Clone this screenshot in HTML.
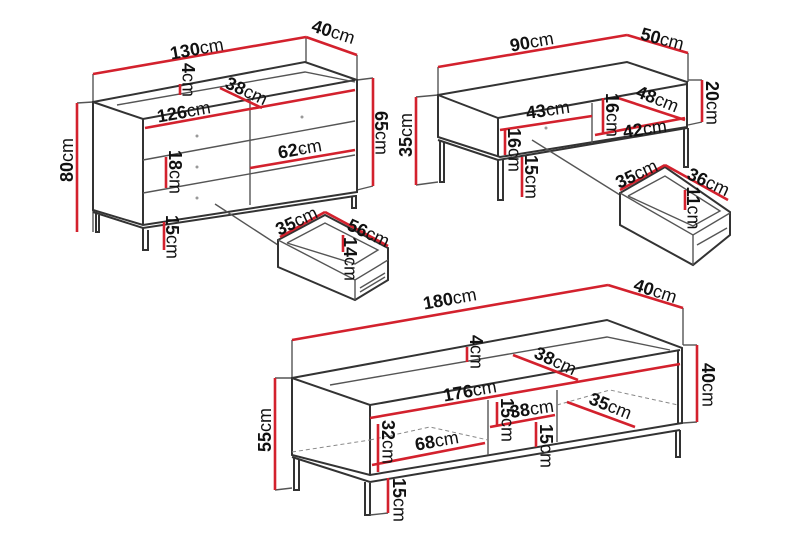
<!DOCTYPE html>
<html><head><meta charset="utf-8"><style>
html,body{margin:0;padding:0;background:#fff;width:800px;height:533px;overflow:hidden}
svg{display:block}
text{font-family:"Liberation Sans",sans-serif;font-size:18px;fill:#111;text-anchor:middle;dominant-baseline:middle}
tspan.b{font-weight:bold}
.g{stroke:#555;stroke-width:1.4;fill:none}
.k{stroke:#333;stroke-width:2;fill:none}
.r{stroke:#d3212d;stroke-width:2.6;fill:none}
.d{stroke:#888;stroke-width:1;fill:none;stroke-dasharray:4 3}
</style></head><body>
<svg width="800" height="533" viewBox="0 0 800 533">
<!-- ===== SIDEBOARD ===== -->
<g>
<polyline class="g" points="93,74 93,232"/>
<polyline class="g" points="306,37 306,62"/>
<polyline class="g" points="357,55 357,80"/>
<polyline class="g" points="77,103 93,102"/>
<polyline class="g" points="357,80 373,78"/>
<polyline class="g" points="357,190 373,186"/>
<polygon class="k" points="93,102 305,62 357,80 357,192 143,225 93,210" fill="#fff"/>
<polyline class="k" points="93,102 143,119 355,80"/>
<polyline class="g" points="117,105 305,72 355,82"/>
<line class="k" x1="143" y1="119" x2="143" y2="225"/>
<line class="g" x1="250" y1="98" x2="250" y2="205"/>
<line class="g" x1="143" y1="160" x2="355" y2="121"/>
<line class="g" x1="143" y1="193" x2="355" y2="155"/>
<polyline class="k" points="93,212 143,228 355,196"/>
<polyline class="k" points="96,212 96,232 99,232 99,215"/>
<polyline class="k" points="143,228 143,250 148,250 148,230"/>
<polyline class="k" points="352,196 352,208 356,208 356,195"/>
<circle cx="197" cy="136" r="1.5" fill="#999"/><circle cx="197" cy="167" r="1.5" fill="#999"/><circle cx="197" cy="198" r="1.5" fill="#999"/>
<circle cx="302" cy="117" r="1.5" fill="#999"/><circle cx="302" cy="151" r="1.5" fill="#999"/>
<line class="g" x1="215" y1="204" x2="278" y2="245" stroke-width="1"/>
<!-- drawer -->
<polygon class="k" points="278,240 325,215 388,248 388,280 355,300 278,267" fill="#fff"/>
<polyline class="g" points="278,240 355,280 388,260"/>
<polyline class="g" points="287,243 325,223 378,250 355,264 287,243"/>
<line class="g" x1="355" y1="280" x2="355" y2="300"/>
<line class="g" x1="360" y1="288" x2="385" y2="273"/>
<line class="g" x1="360" y1="292" x2="385" y2="277"/>
<!-- red dims -->
<line class="r" x1="93" y1="74" x2="306" y2="37"/>
<line class="r" x1="306" y1="37" x2="357" y2="55"/>
<line class="r" x1="77" y1="103" x2="77" y2="232"/>
<line class="r" x1="373" y1="78" x2="373" y2="186"/>
<line class="r" x1="145" y1="128" x2="355" y2="90"/>
<line class="r" x1="220" y1="88" x2="262" y2="108"/>
<line class="r" x1="180" y1="84" x2="180" y2="95"/>
<line class="r" x1="166" y1="157" x2="166" y2="188"/>
<line class="r" x1="250" y1="168" x2="355" y2="150"/>
<line class="r" x1="164" y1="222" x2="164" y2="250"/>
<line class="r" x1="280" y1="237" x2="325" y2="212"/>
<line class="r" x1="325" y1="212" x2="388" y2="246"/>
<line class="r" x1="343" y1="235" x2="343" y2="252"/>
<text transform="translate(197,50) rotate(-10)"><tspan class="b">130</tspan>cm</text>
<text transform="translate(333,33) rotate(18)"><tspan class="b">40</tspan>cm</text>
<text transform="translate(187,80) rotate(90)"><tspan class="b">4</tspan>cm</text>
<text transform="translate(246,92) rotate(25)"><tspan class="b">38</tspan>cm</text>
<text transform="translate(184,113) rotate(-10)"><tspan class="b">126</tspan>cm</text>
<text transform="translate(174,172) rotate(90)"><tspan class="b">18</tspan>cm</text>
<text transform="translate(300,150) rotate(-10)"><tspan class="b">62</tspan>cm</text>
<text transform="translate(171,237) rotate(90)"><tspan class="b">15</tspan>cm</text>
<text transform="translate(68,160) rotate(-90)"><tspan class="b">80</tspan>cm</text>
<text transform="translate(380,133) rotate(90)"><tspan class="b">65</tspan>cm</text>
<text transform="translate(297,222) rotate(-25)"><tspan class="b">35</tspan>cm</text>
<text transform="translate(368,234) rotate(25)"><tspan class="b">56</tspan>cm</text>
<text transform="translate(349,259) rotate(90)"><tspan class="b">14</tspan>cm</text>
</g>
<!-- ===== COFFEE TABLE ===== -->
<g>
<line class="g" x1="438" y1="67" x2="438" y2="95"/>
<line class="g" x1="688" y1="53" x2="688" y2="82"/>
<polyline class="g" points="416,97 438,95"/>
<polyline class="g" points="688,80 702,80"/>
<polyline class="g" points="688,125 702,122"/>
<polyline class="g" points="416,185 438,182"/>
<polygon class="k" points="438,95 627,62 687,82 687,127 500,157 438,137" fill="#fff"/>
<polyline class="k" points="438,95 498,118 687,84"/>
<line class="k" x1="498" y1="118" x2="498" y2="157"/>
<line class="g" x1="592" y1="103" x2="592" y2="143"/>
<polyline class="k" points="438,140 498,160 687,128"/>
<polyline class="k" points="440,140 440,182 444,182 444,142"/>
<polyline class="k" points="498,160 498,200 503,200 503,160"/>
<polyline class="k" points="684,128 684,167 688,167 688,128"/>
<line class="g" x1="532" y1="140" x2="620" y2="195" stroke-width="1"/>
<circle cx="546" cy="128" r="1.5" fill="#999"/>
<polygon class="k" points="620,193 665,167 730,212 730,235 693,265 620,225" fill="#fff"/>
<polyline class="g" points="620,193 693,235 730,213"/>
<polyline class="g" points="628,196 665,176 720,211 693,226 628,196"/>
<line class="g" x1="693" y1="235" x2="693" y2="265"/>
<line class="g" x1="697" y1="245" x2="727" y2="228"/>
<line class="r" x1="438" y1="67" x2="627" y2="35"/>
<line class="r" x1="627" y1="35" x2="688" y2="53"/>
<line class="r" x1="416" y1="97" x2="416" y2="185"/>
<line class="r" x1="702" y1="80" x2="702" y2="122"/>
<line class="r" x1="500" y1="130" x2="592" y2="116"/>
<line class="r" x1="618" y1="98" x2="685" y2="120"/>
<line class="r" x1="595" y1="135" x2="685" y2="118"/>
<line class="r" x1="603" y1="98" x2="603" y2="133"/>
<line class="r" x1="505" y1="130" x2="505" y2="155"/>
<line class="r" x1="522" y1="157" x2="522" y2="197"/>
<line class="r" x1="620" y1="190" x2="665" y2="165"/>
<line class="r" x1="665" y1="165" x2="728" y2="200"/>
<line class="r" x1="685" y1="190" x2="685" y2="210"/>
<text transform="translate(532,43) rotate(-10)"><tspan class="b">90</tspan>cm</text>
<text transform="translate(662,40) rotate(15)"><tspan class="b">50</tspan>cm</text>
<text transform="translate(407,135) rotate(-90)"><tspan class="b">35</tspan>cm</text>
<text transform="translate(711,103) rotate(90)"><tspan class="b">20</tspan>cm</text>
<text transform="translate(548,111) rotate(-8)"><tspan class="b">43</tspan>cm</text>
<text transform="translate(611,115) rotate(90)"><tspan class="b">16</tspan>cm</text>
<text transform="translate(657,100) rotate(22)"><tspan class="b">48</tspan>cm</text>
<text transform="translate(645,130) rotate(-8)"><tspan class="b">42</tspan>cm</text>
<text transform="translate(513,150) rotate(90)"><tspan class="b">16</tspan>cm</text>
<text transform="translate(530,177) rotate(90)"><tspan class="b">15</tspan>cm</text>
<text transform="translate(637,175) rotate(-25)"><tspan class="b">35</tspan>cm</text>
<text transform="translate(708,183) rotate(25)"><tspan class="b">36</tspan>cm</text>
<text transform="translate(692,208) rotate(90)"><tspan class="b">11</tspan>cm</text>
</g>
<!-- ===== TV BENCH ===== -->
<g>
<line class="g" x1="292" y1="340" x2="292" y2="378"/>
<line class="g" x1="683" y1="308" x2="683" y2="345"/>
<line class="g" x1="275" y1="378" x2="292" y2="378"/>
<line class="g" x1="275" y1="490" x2="292" y2="488"/>
<line class="g" x1="683" y1="345" x2="697" y2="345"/>
<line class="g" x1="683" y1="423" x2="697" y2="422"/>
<polygon class="k" points="292,378 607,320 682,348 682,423 370,475 292,455" fill="#fff"/>
<polyline class="k" points="292,378 370,405 680,350"/>
<polyline class="g" points="330,385 607,337 670,350"/>
<line class="k" x1="370" y1="405" x2="370" y2="475"/>
<line class="k" x1="678" y1="350" x2="678" y2="423"/>
<line class="g" x1="488" y1="400" x2="488" y2="455"/>
<line class="g" x1="557" y1="390" x2="557" y2="442"/>
<polyline class="d" points="370,440 430,427 488,440"/>
<polyline class="d" points="557,405 610,390 678,405"/>
<polyline class="d" points="292,452 370,440"/>
<polyline class="k" points="292,457 370,482 680,430"/>
<polyline class="k" points="294,457 294,490 299,490 299,460"/>
<polyline class="k" points="365,482 365,515 370,515 370,483"/>
<polyline class="k" points="676,430 676,457 680,457 680,430"/>
<line class="g" x1="370" y1="515" x2="388" y2="513"/>
<line class="r" x1="292" y1="340" x2="608" y2="285"/>
<line class="r" x1="608" y1="285" x2="683" y2="308"/>
<line class="r" x1="275" y1="378" x2="275" y2="490"/>
<line class="r" x1="697" y1="345" x2="697" y2="422"/>
<line class="r" x1="467" y1="347" x2="467" y2="362"/>
<line class="r" x1="513" y1="355" x2="578" y2="380"/>
<line class="r" x1="370" y1="418" x2="680" y2="364"/>
<line class="r" x1="378" y1="424" x2="378" y2="472"/>
<line class="r" x1="372" y1="465" x2="485" y2="443"/>
<line class="r" x1="497" y1="402" x2="497" y2="425"/>
<line class="r" x1="490" y1="427" x2="555" y2="415"/>
<line class="r" x1="536" y1="422" x2="536" y2="447"/>
<line class="r" x1="567" y1="402" x2="635" y2="427"/>
<line class="r" x1="388" y1="478" x2="388" y2="513"/>
<text transform="translate(450,300) rotate(-10)"><tspan class="b">180</tspan>cm</text>
<text transform="translate(655,292) rotate(18)"><tspan class="b">40</tspan>cm</text>
<text transform="translate(475,352) rotate(90)"><tspan class="b">4</tspan>cm</text>
<text transform="translate(555,362) rotate(25)"><tspan class="b">38</tspan>cm</text>
<text transform="translate(470,392) rotate(-10)"><tspan class="b">176</tspan>cm</text>
<text transform="translate(387,442) rotate(90)"><tspan class="b">32</tspan>cm</text>
<text transform="translate(437,442) rotate(-10)"><tspan class="b">68</tspan>cm</text>
<text transform="translate(506,420) rotate(90)"><tspan class="b">15</tspan>cm</text>
<text transform="translate(532,410) rotate(-8)"><tspan class="b">38</tspan>cm</text>
<text transform="translate(545,446) rotate(90)"><tspan class="b">15</tspan>cm</text>
<text transform="translate(610,407) rotate(22)"><tspan class="b">35</tspan>cm</text>
<text transform="translate(398,500) rotate(90)"><tspan class="b">15</tspan>cm</text>
<text transform="translate(266,430) rotate(-90)"><tspan class="b">55</tspan>cm</text>
<text transform="translate(707,385) rotate(90)"><tspan class="b">40</tspan>cm</text>
</g>
</svg>
</body></html>
